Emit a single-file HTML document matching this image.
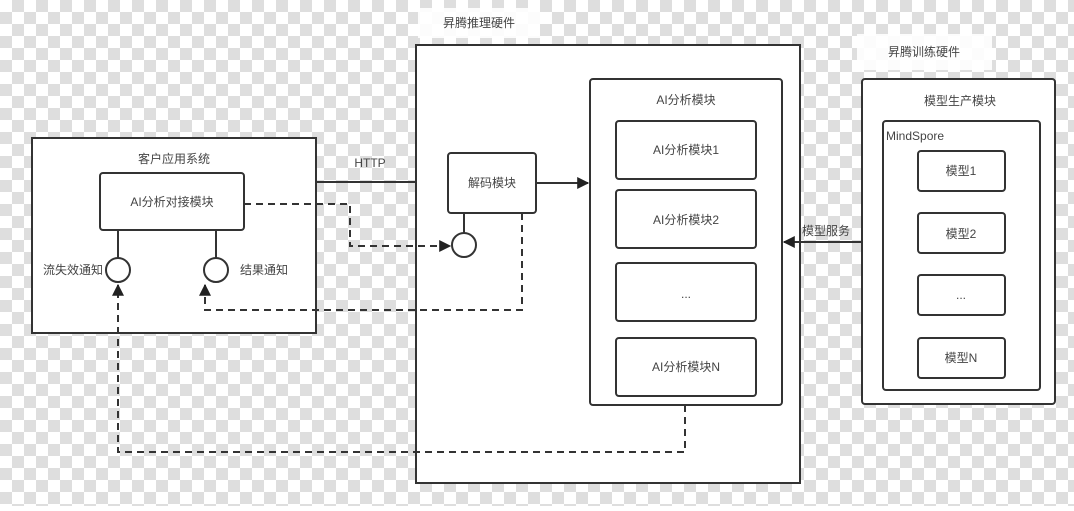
<!DOCTYPE html>
<html><head><meta charset="utf-8"><style>
html,body{margin:0;padding:0;}
body{width:1074px;height:506px;overflow:hidden;}
text{font-family:"Liberation Sans","Noto Sans CJK SC",sans-serif;font-size:12px;fill:#444;}
</style></head><body>
<svg width="1074" height="506" xmlns="http://www.w3.org/2000/svg">
<defs>
<pattern id="ck" width="24" height="24" patternUnits="userSpaceOnUse">
<rect width="24" height="24" fill="#fff"/>
<rect x="12" y="0" width="12" height="12" fill="#dedede"/>
<rect x="0" y="12" width="12" height="12" fill="#dedede"/>
</pattern>
<marker id="ar" viewBox="0 0 10 10" refX="9" refY="5" markerWidth="12" markerHeight="12" markerUnits="userSpaceOnUse" orient="auto">
<path d="M0,0 L10,5 L0,10 z" fill="#222"/></marker>
</defs>
<rect width="1074" height="506" fill="url(#ck)"/>
<g stroke="#333" stroke-width="2" fill="#fff">
<rect x="418" y="8" width="122" height="30" stroke="none" fill="#fff" opacity=".9"/>
<rect x="857" y="34" width="135" height="36" stroke="none" fill="#fff" opacity=".9"/>
<rect x="32" y="138" width="284" height="195"/>
<rect x="416" y="45" width="384" height="438"/>
<rect x="862" y="79" width="193" height="325" rx="3"/>
<rect x="100" y="173" width="144" height="57" rx="3"/>
<rect x="448" y="153" width="88" height="60" rx="3"/>
<rect x="590" y="79" width="192" height="326" rx="3"/>
<rect x="616" y="121" width="140" height="58" rx="3"/>
<rect x="616" y="190" width="140" height="58" rx="3"/>
<rect x="616" y="263" width="140" height="58" rx="3"/>
<rect x="616" y="338" width="140" height="58" rx="3"/>
<rect x="883" y="121" width="157" height="269" rx="3"/>
<rect x="918" y="151" width="87" height="40" rx="3"/>
<rect x="918" y="213" width="87" height="40" rx="3"/>
<rect x="918" y="275" width="87" height="40" rx="3"/>
<rect x="918" y="338" width="87" height="40" rx="3"/>
<line x1="118" y1="230" x2="118" y2="258"/>
<line x1="216" y1="230" x2="216" y2="258"/>
<line x1="464" y1="213" x2="464" y2="233"/>
<circle cx="118" cy="270" r="12"/>
<circle cx="216" cy="270" r="12"/>
<circle cx="464" cy="245" r="12"/>
<line x1="316" y1="182" x2="416" y2="182"/>
<line x1="536" y1="183" x2="588" y2="183" marker-end="url(#ar)"/>
<line x1="862" y1="242" x2="784" y2="242" marker-end="url(#ar)"/>
<g fill="none" stroke-dasharray="7,5">
<polyline points="244,204 350,204 350,246 450,246" marker-end="url(#ar)"/>
<polyline points="522,213 522,310 205,310 205,285" marker-end="url(#ar)"/>
<polyline points="685,405 685,452 118,452 118,285" marker-end="url(#ar)"/>
</g>
</g>
<text x="479" y="27" text-anchor="middle" font-size="11">昇腾推理硬件</text>
<text x="924" y="56" text-anchor="middle" font-size="11">昇腾训练硬件</text>
<text x="174" y="163" text-anchor="middle">客户应用系统</text>
<text x="172" y="206" text-anchor="middle">AI分析对接模块</text>
<text x="370" y="167" text-anchor="middle">HTTP</text>
<text x="73" y="274" text-anchor="middle">流失效通知</text>
<text x="264" y="274" text-anchor="middle">结果通知</text>
<text x="492" y="187" text-anchor="middle">解码模块</text>
<text x="686" y="104" text-anchor="middle">AI分析模块</text>
<text x="686" y="154" text-anchor="middle">AI分析模块1</text>
<text x="686" y="224" text-anchor="middle">AI分析模块2</text>
<text x="686" y="298" text-anchor="middle">...</text>
<text x="686" y="371" text-anchor="middle">AI分析模块N</text>
<text x="826" y="235" text-anchor="middle">模型服务</text>
<text x="960" y="105" text-anchor="middle">模型生产模块</text>
<text x="886" y="140">MindSpore</text>
<text x="961" y="175" text-anchor="middle">模型1</text>
<text x="961" y="238" text-anchor="middle">模型2</text>
<text x="961" y="299" text-anchor="middle">...</text>
<text x="961" y="362" text-anchor="middle">模型N</text>
</svg>
</body></html>
